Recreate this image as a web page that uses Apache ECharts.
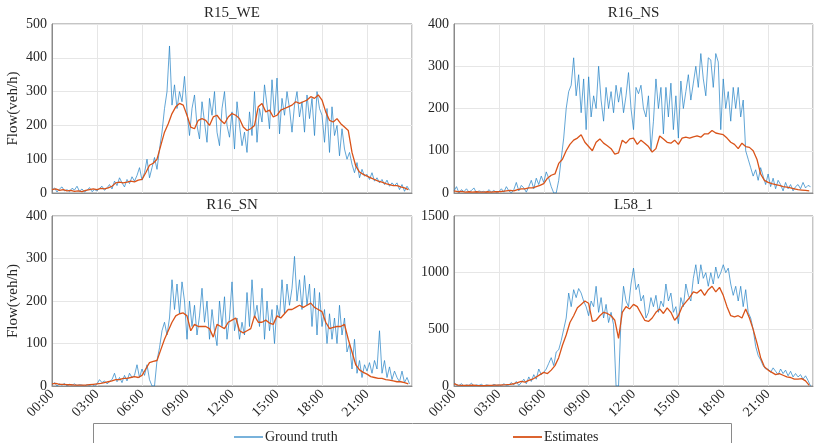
<!DOCTYPE html>
<html>
<head>
<meta charset="utf-8">
<script src="https://cdn.jsdelivr.net/npm/echarts@6/dist/echarts.min.js"></script>
<style>
html,body{margin:0;padding:0;background:#fff;}
#main{width:814px;height:443px;}
</style>
</head>
<body>
<div id="main"></div>
<script>
// ---- data ----
const titles = ['R15_WE', 'R16_NS', 'R16_SN', 'L58_1'];
const xTickLabels = ['00:00', '03:00', '06:00', '09:00', '12:00', '15:00', '18:00', '21:00'];
const yMax = [500, 400, 400, 1500];
const yStep = [100, 100, 100, 500];

// Ground truth, 10-minute samples (6 per hour)
const gtR15WE = [
  8, 15, 3, 12, 18, 6,   10, 4, 14, 9, 20, 5,   12, 3, 8, 16, 4, 10,   6, 14, 20, 8, 15, 25,
  12, 35, 22, 45, 30, 18,   40, 28, 48, 35, 52, 75,   38, 60, 100, 45, 75, 105,   70, 130, 180, 250, 300, 435,
  260, 320, 250, 300, 270, 345,   240, 170, 250, 290, 200, 160,   270, 210, 150, 280, 230, 300,   180, 140, 250, 300, 200, 165,
  240, 130, 270, 200, 140, 180,   120, 240, 170, 300, 150, 250,   210, 320, 260, 190, 335, 230,   340, 175, 280, 230, 300, 250,
  180, 260, 300, 225, 270, 180,   290, 220, 280, 170, 300, 250,   230, 150, 250, 120, 255, 170,   200, 110, 190, 130, 100, 120,
  85, 60, 90, 45, 70, 50,   55, 40, 60, 35, 45, 30,   40, 25, 38, 20, 30, 22,   30, 10, 25, 5, 20, 8
];
const gtR16NS = [
  5, 15, 0, 8, 3, 10,   2, 6, 12, 0, 5, 3,   4, 0, 8, 2, 6, 1,   3, 10, 2, 15, 5, 0,
  8, 25, 5, 18, 12, 2,   15, 30, 10, 35, 20, 40,   25, 50, 35, 15, 0, 0,   30, 80, 130, 200, 240, 255,
  320, 230, 280, 190, 270, 150,   275, 180, 230, 200, 300, 220,   170, 250, 200, 240, 190, 255,   215, 250, 190, 230, 285, 200,
  150, 250, 235, 255, 200, 180,   230, 100, 170, 270, 200, 250,   140, 250, 180, 260, 150, 230,   130, 265, 200, 240, 280, 220,
  260, 300, 250, 330, 270, 230,   320, 315, 250, 330, 310, 150,   270, 200, 240, 170, 250, 200,   250, 180, 220, 100, 80, 60,
  40, 55, 30, 60, 40, 20,   45, 15, 35, 10, 30, 20,   5, 25, 10, 20, 5, 15,   20, 10, 25, 12, 18, 15
];
const gtR16SN = [
  3, 8, 0, 5, 2, 6,   0, 4, 2, 5, 1, 3,   2, 0, 3, 1, 4, 0,   5, 15, 8, 12, 5, 10,
  15, 30, 10, 20, 8, 25,   12, 30, 20, 25, 50, 20,   40, 25, 50, 15, 0, 0,   60, 90, 130, 150, 120, 160,
  250, 180, 240, 170, 245, 200,   110, 200, 140, 190, 120, 165,   230, 150, 200, 110, 180, 130,   95, 200, 140, 210, 110, 160,
  245, 130, 160, 110, 150, 120,   220, 140, 250, 160, 190, 140,   230, 110, 200, 130, 180, 100,   190, 160, 250, 170, 240, 190,
  230, 305, 200, 250, 180, 260,   190, 240, 140, 230, 120, 220,   140, 180, 100, 170, 110, 160,   100, 190, 120, 160, 80, 100,
  40, 110, 30, 60, 20, 50,   35, 55, 30, 60, 40, 130,   30, 60, 20, 45, 15, 35,   20, 10, 35, 8, 20, 5
];
const gtL581 = [
  30, 10, 5, 20, 0, 10,   5, 25, 0, 10, 5, 15,   0, 10, 5, 0, 15, 5,   10, 0, 20, 5, 10, 30,
  10, 40, 5, 30, 60, 20,   80, 40, 100, 60, 150, 100,   120, 150, 200, 250, 180, 300,   320, 400, 500, 600, 820, 700,
  850, 780, 860, 820, 750, 700,   620, 750, 700, 880, 650, 780,   600, 720, 560, 650, 540, 0,   0, 600, 880, 750, 700, 900,
  1040, 850, 900, 750, 800, 600,   650, 780, 700, 800, 650, 750,   700, 900, 750, 820, 650, 700,   550, 780, 700, 900, 800, 750,
  950, 1070, 900, 1070, 950, 1000,   880, 1000, 900, 1050, 950, 1000,   1070, 1000, 1040, 900, 800, 880,   750, 880, 700, 850, 650, 600,
  500, 350, 270, 230, 180, 150,   150, 120, 160, 130, 100, 150,   110, 140, 90, 130, 80, 110,   80, 100, 60, 90, 50, 0
];

// Estimates, 15-minute samples (4 per hour)
const estR15WE = [
  10, 12, 8, 10,   6, 8, 5, 6,   4, 8, 10, 12,   10, 14, 12, 15,   20, 30, 32, 30,   32, 35, 33, 38,
  40, 60, 82, 88,   100, 140, 180, 205,   235, 255, 265, 260,   230, 195, 190, 215,   220, 215, 200, 225,   230, 215, 205, 225,
  235, 230, 220, 195,   185, 190, 200, 255,   265, 240, 245, 225,   230, 245, 250, 255,   260, 270, 265, 270,   275, 285, 280, 290,
  275, 240, 215, 210,   220, 205, 195, 185,   120, 80, 62, 55,   50, 45, 40, 35,   32, 28, 25, 22,   22, 18, 15, 10
];
const estR16NS = [
  5, 3, 4, 2,   3, 2, 3, 2,   2, 3, 2, 3,   3, 4, 5, 6,   5, 8, 10, 10,   12, 12, 15, 18,
  22, 35, 42, 45,   70, 80, 100, 115,   125, 130, 138, 120,   110, 100, 120, 128,   118, 112, 105, 92,   95, 125, 118, 128,
  130, 115, 125, 118,   110, 97, 105, 135,   128, 120, 118, 125,   115, 130, 132, 130,   133, 135, 132, 140,   140, 148, 142, 140,
  138, 130, 120, 115,   105, 118, 110, 108,   100, 80, 45, 30,   25, 22, 20, 18,   15, 14, 12, 10,   8, 7, 6, 5
];
const estR16SN = [
  5, 6, 4, 4,   3, 3, 2, 2,   2, 2, 3, 4,   5, 6, 8, 10,   12, 15, 15, 18,   18, 20, 22, 20,
  25, 40, 55, 58,   60, 85, 110, 130,   150, 165, 170, 172,   165, 130, 145, 140,   140, 140, 135, 115,   145, 140, 135, 150,
  155, 160, 130, 125,   130, 135, 165, 150,   150, 155, 148, 145,   165, 160, 170, 180,   180, 185, 190, 185,   190, 195, 185, 180,
  175, 150, 135, 138,   140, 140, 145, 110,   80, 50, 38, 32,   28, 22, 20, 18,   18, 15, 14, 12,   10, 10, 8, 5
];
const estL581 = [
  20, 8, 5, 5,   5, 8, 5, 3,   3, 5, 5, 8,   8, 10, 12, 15,   20, 30, 40, 35,   50, 60, 80, 100,
  120, 110, 140, 180,   250, 360, 450, 560,   620, 690, 720, 750,   730, 570, 580, 620,   650, 640, 620, 580,   420, 650, 700, 680,
  720, 700, 640, 580,   570, 600, 650, 680,   640, 690, 650, 580,   620, 700, 740, 780,   830, 820, 850, 800,   850, 880, 830, 870,
  800, 700, 620, 610,   620, 600, 680, 600,   500, 380, 250, 170,   140, 120, 100, 110,   95, 80, 75, 60,   60, 65, 45, 5
];

const groundTruth = [gtR15WE, gtR16NS, gtR16SN, gtL581];
const estimates = [estR15WE, estR16NS, estR16SN, estL581];

// ---- chart ----
const FONT = 'Liberation Serif';
const TXT = '#262626';
const grids = [
  { left: 52, top: 24, width: 360, height: 169 },
  { left: 454, top: 24, width: 359, height: 169 },
  { left: 52, top: 216, width: 360, height: 170 },
  { left: 454, top: 216, width: 359, height: 170 }
];

function toPairs(vals, perHour) {
  return vals.map((v, i) => [i / perHour, v]);
}

const option = {
  animation: false,
  backgroundColor: '#fff',
  textStyle: { fontFamily: FONT, color: TXT },
  title: titles.map((t, i) => ({
    text: t,
    left: grids[i].left + grids[i].width / 2,
    textAlign: 'center',
    top: i < 2 ? 6 : 198,
    padding: 0,
    textStyle: { fontFamily: FONT, fontSize: 15, fontWeight: 'normal', color: TXT }
  })),
  legend: [
    {
      data: ['Ground truth'], left: 229, top: 425, itemWidth: 29, itemHeight: 1.2, icon: 'rect',
      textStyle: { fontFamily: FONT, fontSize: 14, color: TXT, padding: [0, 0, 0, -3] }
    },
    {
      data: ['Estimates'], left: 508, top: 425, itemWidth: 29, itemHeight: 1.8, icon: 'rect',
      textStyle: { fontFamily: FONT, fontSize: 14, color: TXT, padding: [0, 0, 0, -3] }
    }
  ],
  graphic: [{
    type: 'rect', z: -1, silent: true,
    shape: { x: 93.5, y: 423.5, width: 638, height: 30 },
    style: { fill: '#fff', stroke: '#8a8a8a', lineWidth: 1 }
  }],
  grid: grids.map(g => Object.assign({ show: true, borderColor: '#8a8a8a', borderWidth: 1, backgroundColor: '#fff' }, g)),
  xAxis: grids.map((g, i) => ({
    type: 'value', gridIndex: i, min: 0, max: 24, interval: 3,
    axisLine: { show: true, onZero: false, lineStyle: { color: '#8a8a8a' } },
    axisTick: { show: false },
    splitLine: { show: true, lineStyle: { color: '#e6e6e6', width: 1 } },
    axisLabel: {
      show: i >= 2, rotate: 45, margin: 6, fontFamily: FONT, fontSize: 14, color: TXT,
      showMaxLabel: false,
      formatter: v => (v % 3 === 0 && v < 24) ? xTickLabels[v / 3] : ''
    }
  })),
  yAxis: grids.map((g, i) => ({
    type: 'value', gridIndex: i, min: 0, max: yMax[i], interval: yStep[i],
    name: i % 2 === 0 ? 'Flow(veh/h)' : '',
    nameLocation: 'middle', nameGap: 31, nameRotate: 90,
    nameTextStyle: { fontFamily: FONT, fontSize: 15, color: TXT },
    axisLine: { show: true, lineStyle: { color: '#8a8a8a' } },
    axisTick: { show: false },
    splitLine: { show: true, lineStyle: { color: '#e6e6e6', width: 1 } },
    axisLabel: { margin: 5, fontFamily: FONT, fontSize: 14, color: TXT, formatter: v => String(v) }
  })),
  series: []
};

for (let i = 0; i < 4; i++) {
  option.series.push({
    name: 'Ground truth', type: 'line', xAxisIndex: i, yAxisIndex: i,
    data: toPairs(groundTruth[i], 6), showSymbol: false, symbol: 'none',
    lineStyle: { color: '#1f7fc4', width: 0.7 }, itemStyle: { color: '#1f7fc4' }, z: 2
  });
  option.series.push({
    name: 'Estimates', type: 'line', xAxisIndex: i, yAxisIndex: i,
    data: toPairs(estimates[i], 4), showSymbol: false, symbol: 'none',
    lineStyle: { color: '#D95319', width: 1.3 }, itemStyle: { color: '#D95319' }, z: 3
  });
}

const chart = echarts.init(document.getElementById('main'), null, { renderer: 'canvas' });
chart.setOption(option);
</script>
</body>
</html>
